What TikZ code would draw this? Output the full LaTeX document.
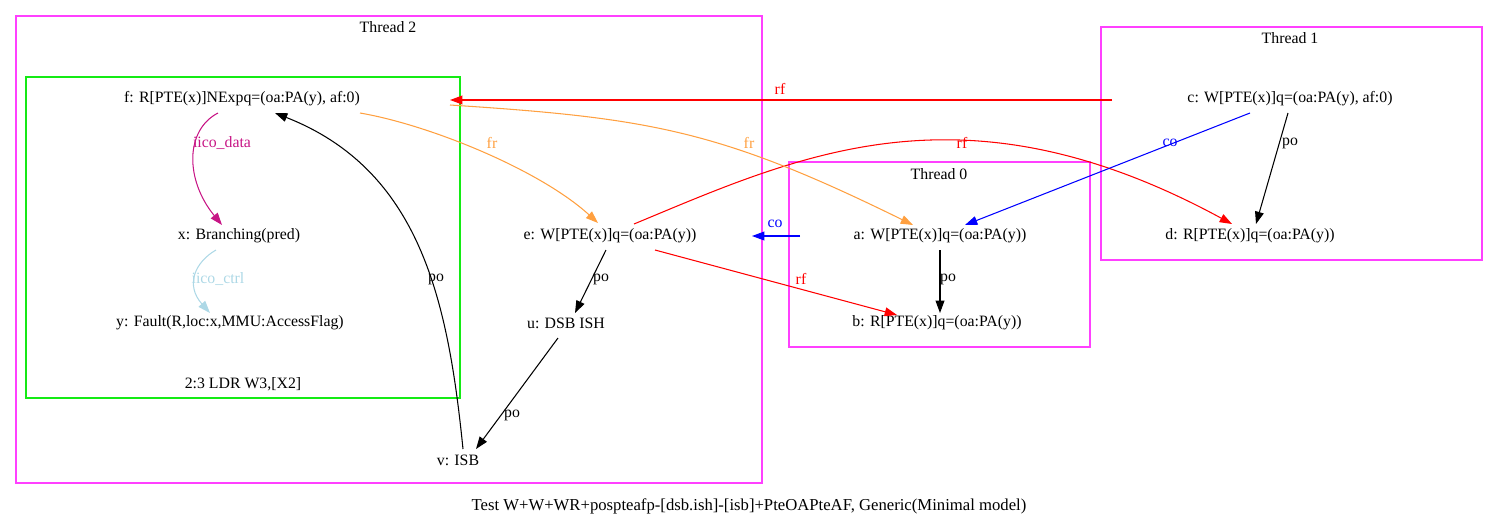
\documentclass[tikz,border=0pt]{standalone}
\usepackage{fontspec}
\setmainfont{Liberation Serif}
\usetikzlibrary{arrows.meta}
\definecolor{thrbox}{RGB}{255,64,255}
\definecolor{insbox}{RGB}{20,235,20}
\definecolor{frcol}{RGB}{255,160,64}
\definecolor{datacol}{RGB}{199,21,133}
\definecolor{ctrlcol}{RGB}{173,216,230}

\tikzset{
  ev/.style={inner sep=1pt, font=\fontsize{9}{10}\selectfont},
  lab/.style={inner sep=1pt, font=\fontsize{9}{10}\selectfont},
  rel/.style={-{Triangle[length=7pt,width=5pt]}, line width=0.6pt},
  po/.style={rel, black},
  rf/.style={rel, red},
  fr/.style={rel, frcol},
  co/.style={rel, blue},
}

\begin{document}
\begin{tikzpicture}[x=0.02cm, y=-0.02cm]
  \useasboundingbox (0,0) rectangle (1499,525);
  % thread boxes
  \draw[thrbox, line width=0.6pt] (16,16) rectangle (762,483);
  \node[lab] at (388,27) {Thread 2};
  \draw[insbox, line width=0.6pt] (26,77) rectangle (460,398);
  \node[lab] at (243,384) {2:3 LDR W3,[X2]};
  \draw[thrbox, line width=0.6pt] (789,162) rectangle (1090,347);
  \node[lab] at (939,174) {Thread 0};
  \draw[thrbox, line width=0.6pt] (1101,27) rectangle (1482,260);
  \node[lab] at (1290,38) {Thread 1};

  % events
  \node[ev] (f) at (242,99)  {f: R[PTE(x)]NExpq=(oa:PA(y), af:0)};
  \node[ev] (x) at (239,236) {x: Branching(pred)};
  \node[ev] (y) at (230,323) {y: Fault(R,loc:x,MMU:AccessFlag)};
  \node[ev] (e) at (610,236) {e: W[PTE(x)]q=(oa:PA(y))};
  \node[ev] (u) at (566,323) {u: DSB ISH};
  \node[ev] (v) at (458,460) {v: ISB};
  \node[ev] (a) at (940,236) {a: W[PTE(x)]q=(oa:PA(y))};
  \node[ev] (b) at (937,323) {b: R[PTE(x)]q=(oa:PA(y))};
  \node[ev] (c) at (1290,99) {c: W[PTE(x)]q=(oa:PA(y), af:0)};
  \node[ev] (d) at (1250,236) {d: R[PTE(x)]q=(oa:PA(y))};

  % intra-instruction
  \draw[rel, datacol] ([shift={(-24,14)}]f.center) .. controls (185,130) and (185,180) .. ([shift={(-17,-11)}]x.center);
  \node[lab, datacol] at (222,143) {iico\_data};
  \draw[rel, ctrlcol] ([shift={(-23,14)}]x.center) .. controls (195,262) and (185,285) .. ([shift={(-20,-10)}]y.center);
  \node[lab, ctrlcol] at (218,279) {iico\_ctrl};

  % program order
  \draw[po] ([shift={(5,-11)}]v.center) .. controls (448,300) and (420,170) .. ([shift={(33,14)}]f.center);
  \node[lab] at (436,279) {po};
  \draw[po] ([shift={(-4,14)}]e.center) -- ([shift={(9,-10)}]u.center);
  \node[lab] at (601,279) {po};
  \draw[po] ([shift={(-8,15)}]u.center) -- ([shift={(18,-11)}]v.center);
  \node[lab] at (512,415) {po};
  \draw[po] ([shift={(0,14)}]a.center) -- ([shift={(3,-10)}]b.center);
  \node[lab] at (948,279) {po};
  \draw[po] ([shift={(-2,14)}]c.center) -- ([shift={(6,-12)}]d.center);
  \node[lab] at (1290,143) {po};

  % reads-from
  \draw[rf] ([shift={(-178,1)}]c.center) -- ([shift={(208,1)}]f.center);
  \node[lab, red] at (780,89) {rf};
  \draw[rf] ([shift={(24,-12)}]e.center) .. controls (800,155) and (963,78) .. ([shift={(-18,-12)}]d.center);
  \node[lab, red] at (962,143) {rf};
  \draw[rf] ([shift={(45,14)}]e.center) -- ([shift={(-40,-8)}]b.center);
  \node[lab, red] at (801,279) {rf};

  % from-reads
  \draw[fr] ([shift={(118,14)}]f.center) .. controls (430,125) and (540,170) .. ([shift={(-12,-13)}]e.center);
  \node[lab, frcol] at (492,143) {fr};
  \draw[fr] ([shift={(208,6)}]f.center) .. controls (650,118) and (720,130) .. ([shift={(-27,-11)}]a.center);
  \node[lab, frcol] at (749,143) {fr};

  % coherence
  \draw[co] ([shift={(-140,0)}]a.center) -- ([shift={(142,0)}]e.center);
  \node[lab, blue] at (775,224) {co};
  \draw[co] ([shift={(-40,14)}]c.center) -- ([shift={(25,-11)}]a.center);
  \node[lab, blue] at (1170,143) {co};

  \node[lab, font=\fontsize{9.5}{11}\selectfont] (title) at (749,506) {Test W+W+WR+pospteafp-[dsb.ish]-[isb]+PteOAPteAF, Generic(Minimal model)};
\end{tikzpicture}
\end{document}
